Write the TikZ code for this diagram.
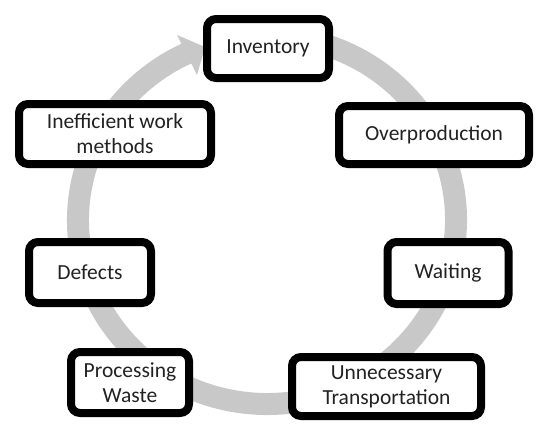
\documentclass[tikz,border=0pt]{standalone}
\usepackage{fontspec}
\setmainfont{Carlito}
\usetikzlibrary{shadows}
\definecolor{ringgrey}{RGB}{200,200,200}
\definecolor{txt}{RGB}{34,34,34}
\tikzset{
  wastebox/.style={draw=black, line width=8pt, rounded corners=9pt, fill=white,
    align=center, inner sep=0pt, text=txt,
    font=\fontsize{21.5}{25}\selectfont,
    drop shadow={shadow xshift=1.5pt, shadow yshift=-2pt, opacity=0.25, fill=black}},
  ring/.style={draw=ringgrey, line width=22pt}
}
\begin{document}
\begin{tikzpicture}[x=1pt,y=-1pt]
\useasboundingbox (0,0) rectangle (537,423);
% cycle ring
\coordinate (c) at (267,220);
\draw[ring] (c) ++(-80:189 and 184) arc[start angle=-80, end angle=245, x radius=189, y radius=184];
\coordinate (b1) at (177,35);
\coordinate (tip) at (205,47);
\coordinate (b2) at (197,75);
\fill[ringgrey] (b1) -- (tip) -- (b2) -- cycle;
% boxes
\node[wastebox, minimum width=122pt, minimum height=59pt] (inv) at (268,48.5) {Inventory};
\node[wastebox, minimum width=190pt, minimum height=58pt] (over) at (434,135) {Overproduction};
\node[wastebox, minimum width=121pt, minimum height=62pt] (wait) at (448,273) {Waiting};
\node[wastebox, minimum width=189pt, minimum height=59pt] (trans) at (386.5,386.5) {Unnecessary\\Transportation};
\node[wastebox, minimum width=118pt, minimum height=61pt] (proc) at (130,382.5) {Processing\\Waste};
\node[wastebox, minimum width=122pt, minimum height=61pt] (def) at (90,272.5) {Defects};
\node[wastebox, minimum width=192pt, minimum height=60pt] (ineff) at (115,134) {Inefficient work\\methods};
\end{tikzpicture}
\end{document}
